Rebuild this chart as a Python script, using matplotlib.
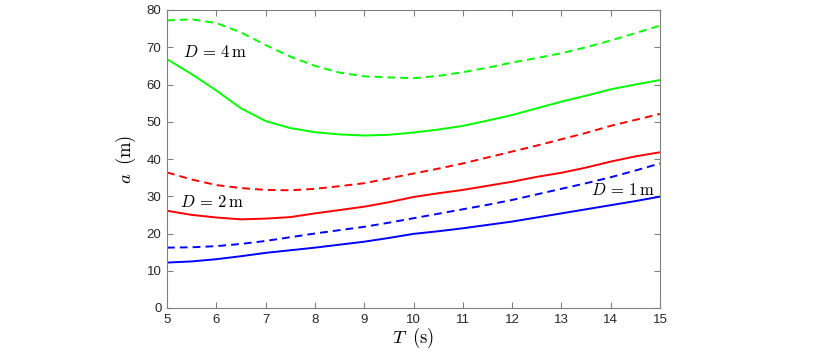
import matplotlib
matplotlib.use('Agg')
import matplotlib.pyplot as plt

plt.rcParams['mathtext.fontset'] = 'cm'
plt.rcParams['font.family'] = ['Liberation Sans', 'DejaVu Sans']

T = [5, 5.5, 6, 6.5, 7, 7.5, 8, 8.5, 9, 9.5, 10, 10.5, 11, 11.5, 12, 12.5, 13, 13.5, 14, 14.5, 15]

# D = 4 m
a4_dash = [77.2, 77.5, 76.5, 74.0, 70.6, 67.5, 65.0, 63.2, 62.2, 61.9, 61.7, 62.3, 63.3, 64.5, 65.9, 67.1, 68.4, 70.0, 71.8, 73.8, 75.8]
a4_solid = [66.8, 62.8, 58.4, 53.6, 50.2, 48.3, 47.2, 46.6, 46.3, 46.5, 47.1, 47.9, 48.9, 50.3, 51.8, 53.6, 55.4, 57.0, 58.7, 60.0, 61.2]

# D = 2 m
a2_dash = [36.4, 34.5, 33.0, 32.2, 31.7, 31.6, 32.0, 32.7, 33.5, 34.8, 36.1, 37.4, 38.8, 40.4, 42.0, 43.6, 45.3, 47.0, 48.9, 50.5, 52.1]
a2_solid = [26.1, 25.0, 24.3, 23.8, 24.0, 24.4, 25.4, 26.3, 27.2, 28.4, 29.8, 30.8, 31.7, 32.8, 33.9, 35.2, 36.3, 37.7, 39.3, 40.7, 41.8]

# D = 1 m
a1_dash = [16.2, 16.3, 16.6, 17.2, 18.0, 19.0, 20.0, 20.9, 21.8, 22.9, 24.1, 25.3, 26.5, 27.7, 29.0, 30.5, 32.0, 33.5, 35.1, 36.9, 38.8]
a1_solid = [12.2, 12.5, 13.1, 13.9, 14.8, 15.5, 16.2, 17.0, 17.8, 18.8, 19.9, 20.6, 21.4, 22.3, 23.2, 24.3, 25.4, 26.5, 27.6, 28.7, 29.9]

fig = plt.figure(figsize=(8.3, 3.52), dpi=100)
ax = fig.add_axes([167/830, 44/352, 493/830, 298/352])

lw = 1.4
dash = (0, (4, 2.6))
ax.plot(T, a4_dash, color=(0, 1, 0), lw=lw, ls=dash)
ax.plot(T, a4_solid, color=(0, 1, 0), lw=lw)
ax.plot(T, a2_dash, color=(1, 0, 0), lw=lw, ls=dash)
ax.plot(T, a2_solid, color=(1, 0, 0), lw=lw)
ax.plot(T, a1_dash, color=(0, 0, 1), lw=lw, ls=dash)
ax.plot(T, a1_solid, color=(0, 0, 1), lw=lw)

ax.text(5.33, 68.8, r'$D\,=\,4\,\mathrm{m}$', fontsize=12, va='center', ha='left')
ax.text(5.26, 28.4, r'$D\,=\,2\,\mathrm{m}$', fontsize=12, va='center', ha='left')
ax.text(14.9, 31.7, r'$D\,=\,1\,\mathrm{m}$', fontsize=12, va='center', ha='right')

ax.set_xlim(5, 15)
ax.set_ylim(0, 80)
ax.set_xticks(range(5, 16))
ax.set_yticks(range(0, 81, 10))

ax.set_xlabel(r'$T\;\;\mathrm{(s)}$', fontsize=13.5, labelpad=0)
ax.set_ylabel(r'$a\;\;\mathrm{(m)}$', fontsize=13.5, labelpad=6)

for s in ax.spines.values():
    s.set_color('#808080')
    s.set_linewidth(0.8)
ax.tick_params(direction='in', top=True, right=True, length=4, width=0.8,
               color='#808080', labelcolor='#262626', labelsize=9.5, pad=4)

fig.savefig('out.png', dpi=100)
